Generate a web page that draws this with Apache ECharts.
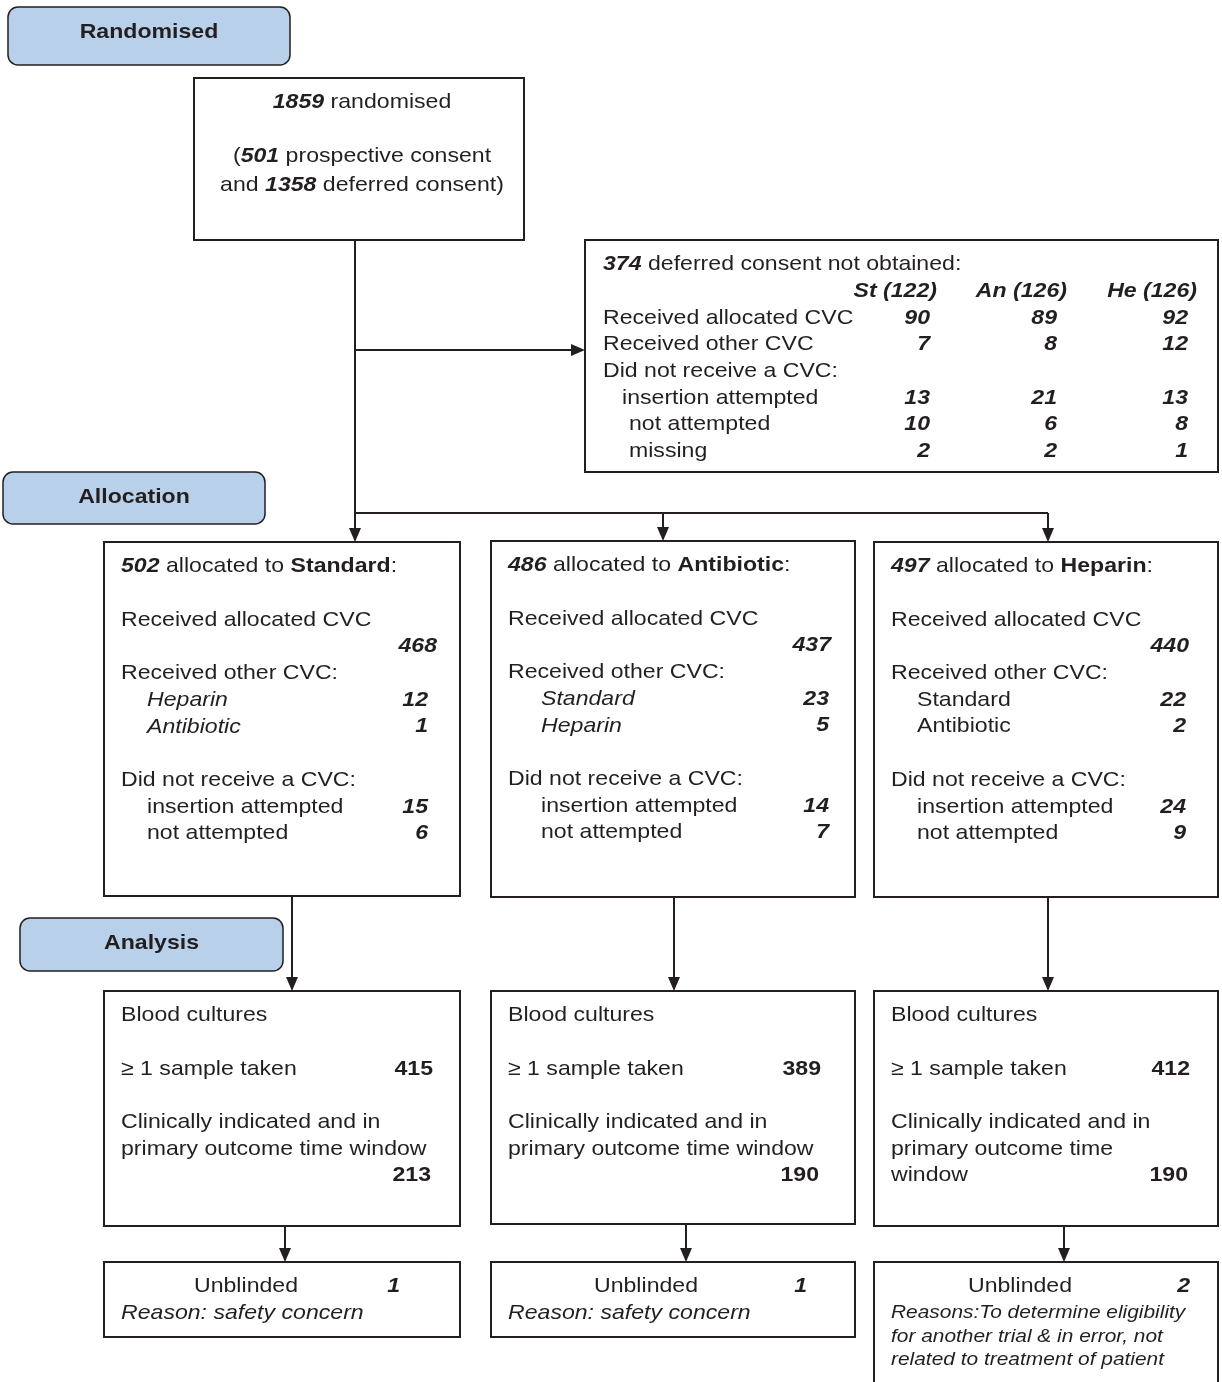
<!DOCTYPE html>
<html lang="en">
<head>
<meta charset="utf-8">
<title>Trial flow diagram</title>
<script src="https://cdn.jsdelivr.net/npm/echarts@6/dist/echarts.min.js"></script>
<style>
  html, body { margin: 0; padding: 0; background: #fff; }
  #main { width: 1222px; height: 1382px; }
</style>
</head>
<body>
<div id="main"></div>
<script type="text/javascript">

// ---- data ----
var stageLabels = ['Randomised', 'Allocation', 'Analysis'];

var randomisedTotal = 1859;
var prospectiveConsent = 501;
var deferredConsent = 1358;

var deferredNotObtained = 374;
var deferredCols = ['St (122)', 'An (126)', 'He (126)'];
var deferredRows = ['Received allocated CVC', 'Received other CVC', 'Did not receive a CVC:',
                    'insertion attempted', 'not attempted', 'missing'];
var deferredSt = [90, 7, null, 13, 10, 2];
var deferredAn = [89, 8, null, 21, 6, 2];
var deferredHe = [92, 12, null, 13, 8, 1];

var arms = ['Standard', 'Antibiotic', 'Heparin'];
var allocated = [502, 486, 497];
var receivedAllocated = [468, 437, 440];
var otherCvcNames = [['Heparin', 'Antibiotic'], ['Standard', 'Heparin'], ['Standard', 'Antibiotic']];
var otherCvcCounts = [[12, 1], [23, 5], [22, 2]];
var insertionAttempted = [15, 14, 24];
var notAttempted = [6, 7, 9];

var sampleTaken = [415, 389, 412];
var primaryWindow = [213, 190, 190];
var primaryWindowText = [
    ['Clinically indicated and in', 'primary outcome time window'],
    ['Clinically indicated and in', 'primary outcome time window'],
    ['Clinically indicated and in', 'primary outcome time', 'window']
];

var unblinded = [1, 1, 2];
var unblindReason = [
    ['Reason: safety concern'],
    ['Reason: safety concern'],
    ['Reasons:To determine eligibility', 'for another trial & in error, not', 'related to treatment of patient']
];

// ---- layout ----
var ink = '#231f20';
var stageFill = '#b9d0eb';
var FONT = '"Liberation Sans", Arial, sans-serif';
var ROW = 26.7, TOP = 24.5, PAD = 17;

var stageBox = [[8, 7, 282, 58], [3, 472, 262, 52], [20, 918, 263, 53]];
var stageTextShift = [-4, -1, -1];
var randBox = [194, 78, 330, 162];
var deferBox = [585, 240, 633, 232];
var deferColRight = [937, 1067, 1197];
var deferValRight = [930, 1057, 1188];
var deferIndent = [0, 0, 0, 19, 26, 26];

var armBox = [[104, 542, 356, 354], [491, 541, 364, 356], [874, 542, 344, 355]];
var armIndent = [26, 33, 26];
var armNumRight = [428, 829, 1186];
var armTopNumRight = [437, 831, 1189];
var otherItalic = [true, true, false];

var cultureBox = [[104, 991, 356, 235], [491, 991, 364, 233], [874, 991, 344, 235]];
var cultureNumRight = [433, 821, 1190];

var unblindBox = [[104, 1262, 356, 75], [491, 1262, 364, 75], [874, 1262, 344, 140]];
var unblindCenter = [246, 646, 1020];
var unblindNumRight = [400, 807, 1190];
var reasonSize = [21, 21, 19];
var reasonStep = [ROW, ROW, 23.5];

// x positions of connectors
var mainX = 355, branchY = 513, sideY = 350;
var armInX = [355, 663, 1048];
var armOutX = [292, 674, 1048];
var cultureOutX = [285, 686, 1064];

// ---- drawing helpers ----
var g = [];

function font(size, weight, style) {
    return (style || 'normal') + ' ' + (weight || 'normal') + ' ' + (size || 21) + 'px ' + FONT;
}

var rich = {
    bi: { font: font(21, 'bold', 'italic'), fill: ink },
    b: { font: font(21, 'bold'), fill: ink }
};

function txt(x, y, text, opt) {
    opt = opt || {};
    g.push({
        type: 'text', x: x, y: y, scaleX: 1.1, z: 10,
        style: {
            text: text, x: 0, y: 0, fill: ink,
            font: font(opt.size, opt.weight, opt.style),
            align: opt.align || 'left', verticalAlign: 'middle',
            rich: rich
        }
    });
}

function rect(r, fill, radius, lw) {
    g.push({
        type: 'rect', z: 1,
        shape: { x: r[0], y: r[1], width: r[2], height: r[3], r: radius || 0 },
        style: { fill: fill || '#fff', stroke: ink, lineWidth: lw || 2 }
    });
}

function seg(x1, y1, x2, y2) {
    g.push({ type: 'line', z: 2, shape: { x1: x1, y1: y1, x2: x2, y2: y2 },
             style: { stroke: ink, lineWidth: 2 } });
}

function arrowDown(x, y1, y2) {
    seg(x, y1, x, y2 - 12);
    g.push({ type: 'polygon', z: 3, shape: { points: [[x - 6, y2 - 14], [x + 6, y2 - 14], [x, y2]] },
             style: { fill: ink } });
}

function arrowRight(y, x1, x2) {
    seg(x1, y, x2 - 12, y);
    g.push({ type: 'polygon', z: 3, shape: { points: [[x2 - 14, y - 6], [x2 - 14, y + 6], [x2, y]] },
             style: { fill: ink } });
}

function rowY(box, row) { return box[1] + TOP + row * ROW; }

// ---- stage labels ----
stageLabels.forEach(function (s, i) {
    var b = stageBox[i];
    rect(b, stageFill, 10, 1.5);
    txt(b[0] + b[2] / 2, b[1] + b[3] / 2 + stageTextShift[i], s, { weight: 'bold', align: 'center' });
});

// ---- randomised ----
rect(randBox);
var rc = randBox[0] + randBox[2] / 2 + 3;
txt(rc, rowY(randBox, 0), '{bi|' + randomisedTotal + '} randomised', { align: 'center' });
txt(rc, rowY(randBox, 2), '({bi|' + prospectiveConsent + '} prospective consent', { align: 'center' });
txt(rc, rowY(randBox, 3.1), 'and {bi|' + deferredConsent + '} deferred consent)', { align: 'center' });

// ---- deferred consent not obtained ----
rect(deferBox);
var dl = deferBox[0] + 18;
txt(dl, rowY(deferBox, 0), '{bi|' + deferredNotObtained + '} deferred consent not obtained:');
deferredCols.forEach(function (c, j) {
    txt(deferColRight[j], rowY(deferBox, 1), c, { weight: 'bold', style: 'italic', align: 'right' });
});
var deferVals = [deferredSt, deferredAn, deferredHe];
deferredRows.forEach(function (r, i) {
    var y = rowY(deferBox, i + 2);
    txt(dl + deferIndent[i], y, r);
    deferVals.forEach(function (vals, j) {
        if (vals[i] != null) {
            txt(deferValRight[j], y, String(vals[i]), { weight: 'bold', style: 'italic', align: 'right' });
        }
    });
});

// ---- connectors ----
arrowDown(mainX, randBox[1] + randBox[3], armBox[0][1]);
arrowRight(sideY, mainX, deferBox[0]);
seg(mainX, branchY, armInX[2], branchY);
arrowDown(armInX[1], branchY, armBox[1][1]);
arrowDown(armInX[2], branchY, armBox[2][1]);
arms.forEach(function (a, k) {
    arrowDown(armOutX[k], armBox[k][1] + armBox[k][3], cultureBox[k][1]);
    arrowDown(cultureOutX[k], cultureBox[k][1] + cultureBox[k][3], unblindBox[k][1]);
});

// ---- arm boxes ----
arms.forEach(function (a, k) {
    var b = armBox[k], L = b[0] + PAD, I = L + armIndent[k];
    var num = { weight: 'bold', style: 'italic', align: 'right' };
    rect(b);
    txt(L, rowY(b, 0), '{bi|' + allocated[k] + '} allocated to {b|' + a + '}:');
    txt(L, rowY(b, 2), 'Received allocated CVC');
    txt(armTopNumRight[k], rowY(b, 3), String(receivedAllocated[k]), num);
    txt(L, rowY(b, 4), 'Received other CVC:');
    otherCvcNames[k].forEach(function (n, j) {
        txt(I, rowY(b, 5 + j), n, { style: otherItalic[k] ? 'italic' : 'normal' });
        txt(armNumRight[k], rowY(b, 5 + j), String(otherCvcCounts[k][j]), num);
    });
    txt(L, rowY(b, 8), 'Did not receive a CVC:');
    txt(I, rowY(b, 9), 'insertion attempted');
    txt(armNumRight[k], rowY(b, 9), String(insertionAttempted[k]), num);
    txt(I, rowY(b, 10), 'not attempted');
    txt(armNumRight[k], rowY(b, 10), String(notAttempted[k]), num);

    // blood cultures
    var c = cultureBox[k], CL = c[0] + PAD;
    rect(c);
    txt(CL, rowY(c, 0), 'Blood cultures');
    txt(CL, rowY(c, 2), '\u2265 1 sample taken');
    txt(cultureNumRight[k], rowY(c, 2), String(sampleTaken[k]), { weight: 'bold', align: 'right' });
    primaryWindowText[k].forEach(function (t, j) {
        txt(CL, rowY(c, 4 + j), t);
    });
    txt(cultureNumRight[k] - 2, rowY(c, 6), String(primaryWindow[k]), { weight: 'bold', align: 'right' });

    // unblinded
    var u = unblindBox[k], UL = u[0] + PAD;
    rect(u);
    txt(unblindCenter[k], rowY(u, 0), 'Unblinded', { align: 'center' });
    txt(unblindNumRight[k], rowY(u, 0), String(unblinded[k]), num);
    unblindReason[k].forEach(function (t, j) {
        g.push({
            type: 'text', x: UL, y: rowY(u, 1) + j * reasonStep[k], scaleX: 1.1, z: 10,
            style: { text: t, x: 0, y: 0, fill: ink, font: font(reasonSize[k], 'normal', 'italic'),
                     align: 'left', verticalAlign: 'middle' }
        });
    });
});

var myChart = echarts.init(document.getElementById('main'));
myChart.setOption({
    backgroundColor: '#fff',
    animation: false,
    graphic: { elements: g }
});

</script>
</body>
</html>
